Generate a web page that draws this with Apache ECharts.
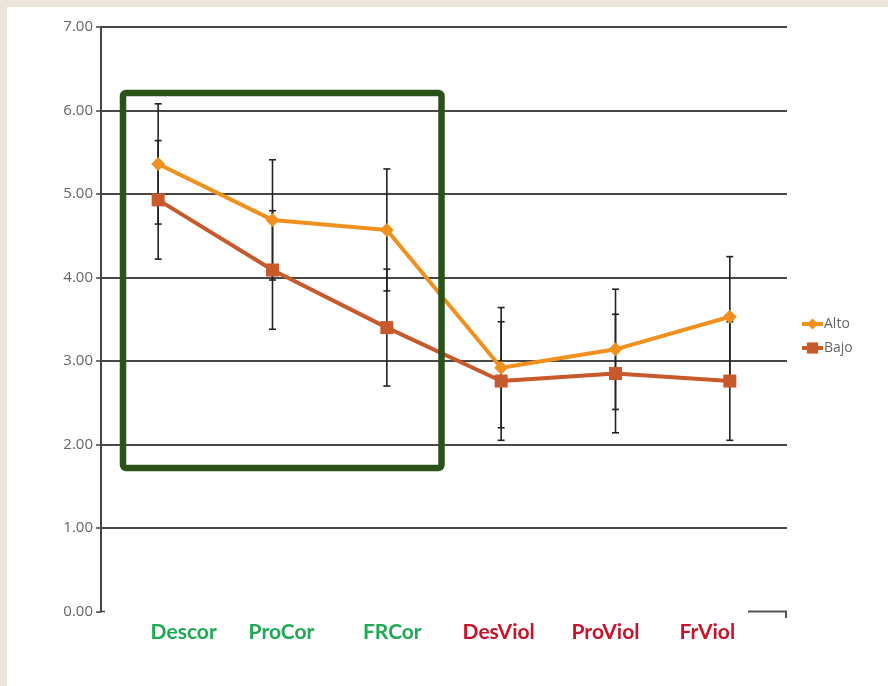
<!DOCTYPE html>
<html>
<head>
<meta charset="utf-8">
<script src="https://cdn.jsdelivr.net/npm/echarts@6/dist/echarts.min.js"></script>
<style>
  html, body { margin: 0; padding: 0; background: #ece3db; }
  #chart { width: 888px; height: 686px; }
</style>
</head>
<body>
<div id="chart"></div>
<script>
// Scale categories (first three: correlates, last three: violence)
const categories = ['Descor', 'ProCor', 'FRCor', 'DesViol', 'ProViol', 'FrViol'];
const categoryColors = ['#1fa955', '#1fa955', '#1fa955', '#c8142a', '#c8142a', '#c8142a'];
// Horizontal nudge of each category caption (px, + = right)
const captionShift = [25.5, 9, 5.5, -2.5, -10, -22.5];

// Group means
const alto = [5.36, 4.69, 4.57, 2.92, 3.14, 3.53];
const bajo = [4.93, 4.09, 3.40, 2.76, 2.85, 2.76];

// Error bar half-widths per group
const altoErr = [0.72, 0.72, 0.73, 0.72, 0.72, 0.72];
const bajoErr = [0.71, 0.71, 0.70, 0.71, 0.71, 0.71];

// Y axis ticks
const yMin = 0, yMax = 7, yStep = 1;

const ALTO_COLOR = '#f0901e';
const BAJO_COLOR = '#c8592b';
const GRID_COLOR = '#474747';

function errorData(means, errs) {
  return means.map((m, i) => [i, m - errs[i], m + errs[i]]);
}

function renderErrorBar(params, api) {
  const i = api.value(0);
  const lo = api.coord([i, api.value(1)]);
  const hi = api.coord([i, api.value(2)]);
  const half = 3.5;
  const style = { stroke: '#222', lineWidth: 1.6 };
  return {
    type: 'group',
    children: [
      { type: 'line', shape: { x1: lo[0], y1: lo[1], x2: hi[0], y2: hi[1] }, style },
      { type: 'line', shape: { x1: lo[0] - half, y1: lo[1], x2: lo[0] + half, y2: lo[1] }, style },
      { type: 'line', shape: { x1: hi[0] - half, y1: hi[1], x2: hi[0] + half, y2: hi[1] }, style }
    ]
  };
}

// Horizontal gridlines, skipping the one at zero
const splitColors = [];
for (let v = yMin; v <= yMax; v += yStep) splitColors.push(v === yMin ? 'rgba(0,0,0,0)' : GRID_COLOR);

// One rich style per caption, padded so the text sits off-centre
const captionRich = {};
categories.forEach((c, i) => {
  const s = captionShift[i];
  captionRich['c' + i] = {
    color: categoryColors[i],
    fontFamily: 'Lato',
    fontWeight: 'bold',
    fontSize: 21,
    padding: s >= 0 ? [0, 0, 0, 2 * s] : [0, -2 * s, 0, 0]
  };
});

const chart = echarts.init(document.getElementById('chart'), null, { renderer: 'canvas' });

const option = {
  backgroundColor: '#ece3db',
  animation: false,
  grid: { left: 101, right: 101, top: 27, bottom: 74.5, containLabel: false },
  legend: {
    orient: 'vertical',
    left: 800,
    top: 317,
    padding: 0,
    itemWidth: 21,
    itemHeight: 14,
    itemGap: 10,
    lineStyle: { width: 4 },
    textStyle: { color: '#666', fontSize: 14, fontFamily: 'Open Sans', padding: [0, 0, 0, -4] },
    data: ['Alto', 'Bajo']
  },
  xAxis: {
    type: 'category',
    data: categories,
    boundaryGap: true,
    axisLine: { show: false },
    axisTick: { show: false },
    splitLine: { show: false },
    axisLabel: {
      margin: 10,
      formatter: (value, index) => '{c' + index + '|' + value + '}',
      rich: captionRich
    }
  },
  yAxis: {
    type: 'value',
    min: yMin,
    max: yMax,
    interval: yStep,
    axisLine: { show: true, lineStyle: { color: '#444', width: 2 } },
    axisTick: { show: true, length: 5, lineStyle: { color: '#444', width: 1.5 } },
    axisLabel: {
      margin: 8,
      color: '#666',
      fontFamily: 'Open Sans',
      fontSize: 15,
      formatter: v => v.toFixed(2)
    },
    splitLine: { show: true, lineStyle: { color: splitColors, width: 2 } }
  },
  series: [
    {
      name: 'Alto err',
      type: 'custom',
      renderItem: renderErrorBar,
      data: errorData(alto, altoErr),
      z: 1,
      silent: true
    },
    {
      name: 'Bajo err',
      type: 'custom',
      renderItem: renderErrorBar,
      data: errorData(bajo, bajoErr),
      z: 1,
      silent: true
    },
    {
      name: 'Bajo',
      type: 'line',
      data: bajo,
      symbol: 'rect',
      symbolSize: 13,
      lineStyle: { color: BAJO_COLOR, width: 4 },
      itemStyle: { color: BAJO_COLOR },
      z: 3
    },
    {
      name: 'Alto',
      type: 'line',
      data: alto,
      symbol: 'diamond',
      symbolSize: 14,
      lineStyle: { color: ALTO_COLOR, width: 4 },
      itemStyle: { color: ALTO_COLOR },
      z: 4
    }
  ],
  graphic: [
    {
      type: 'rect',
      z: -10,
      shape: { x: 7, y: 7, width: 881, height: 679 },
      style: { fill: '#ffffff' }
    },
    {
      // highlight frame around the first three scales
      type: 'rect',
      z: 50,
      shape: { x: 123, y: 93, width: 318.5, height: 375, r: 3 },
      style: { fill: 'none', stroke: '#2a5219', lineWidth: 6.5 }
    },
    {
      // short axis fragment at the bottom right
      type: 'polyline',
      z: 50,
      shape: { points: [[748, 611.5], [786, 611.5], [786, 618]] },
      style: { fill: 'none', stroke: '#555', lineWidth: 2 }
    },
    {
      // tick stub at the origin
      type: 'line',
      z: 50,
      shape: { x1: 101, y1: 611.5, x2: 105, y2: 611.5 },
      style: { stroke: '#444', lineWidth: 1.5 }
    }
  ]
};

chart.setOption(option);
</script>
</body>
</html>
